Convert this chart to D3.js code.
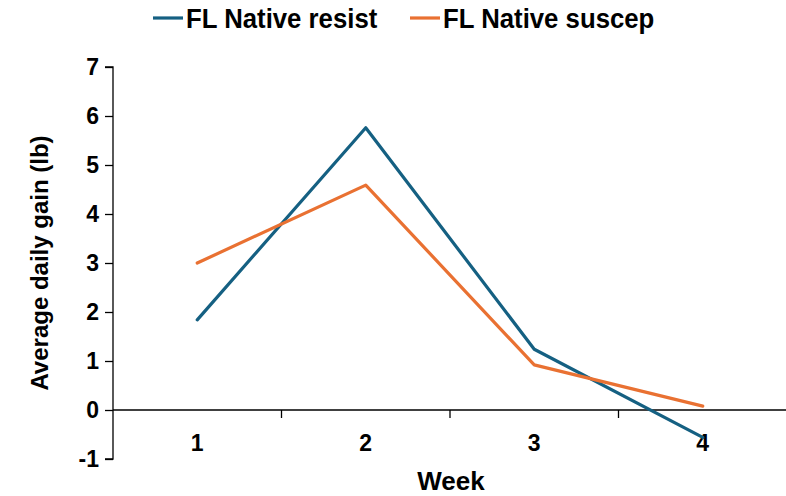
<!DOCTYPE html>
<html>
<head>
<meta charset="utf-8">
<script src="https://cdn.jsdelivr.net/npm/d3@7"></script>
<style>
  body { margin: 0; background: #fff; }
  text { font-family: "Liberation Sans", Arial, sans-serif; font-weight: bold; fill: #000; }
</style>
</head>
<body>
<div id="chart"></div>
<script>
const weeks = ["1", "2", "3", "4"];
const resist = [1.84, 5.76, 1.24, -0.56];
const suscep = [3.0, 4.59, 0.92, 0.08];
const yTicks = [-1, 0, 1, 2, 3, 4, 5, 6, 7];
const seriesNames = ["FL Native resist", "FL Native suscep"];
const colors = ["#156082", "#E97132"];

const width = 786, height = 496;
const margin = {top: 67, right: 0, bottom: 37, left: 113};

const svg = d3.select("#chart").append("svg")
	.attr("width", width)
	.attr("height", height);

const x = d3.scaleBand()
	.domain(weeks)
	.range([margin.left, width + 1]);

const y = d3.scaleLinear()
	.domain([-1, 7])
	.range([height - margin.bottom, margin.top]);

// y axis
const yAxis = svg.append("g")
	.attr("transform", `translate(${margin.left},0)`)
	.call(d3.axisLeft(y).tickValues(yTicks).tickSize(8).tickPadding(6).tickFormat(d => String(d)));
yAxis.selectAll("path, line").attr("stroke", "#000").attr("stroke-width", 1.3);
yAxis.select(".domain").attr("d", `M-8,${y(7)}H0V${y(-1)}H-8`);
yAxis.selectAll("text").style("font-size", "23px");

// x axis sits on zero, ticks between categories
const xAxis = svg.append("g")
	.attr("transform", `translate(0,${y(0)})`);
xAxis.append("line")
	.attr("x1", margin.left).attr("x2", width)
	.attr("stroke", "#000").attr("stroke-width", 1.3);
xAxis.selectAll(".tk")
	.data(weeks.slice(1))
	.enter().append("line")
	.attr("x1", d => x(d)).attr("x2", d => x(d))
	.attr("y1", 0).attr("y2", 8)
	.attr("stroke", "#000").attr("stroke-width", 1.3);

svg.selectAll(".xlab")
	.data(weeks)
	.enter().append("text")
	.attr("x", d => x(d) + x.bandwidth() / 2)
	.attr("y", 451)
	.attr("text-anchor", "middle")
	.style("font-size", "23px")
	.text(d => d);

svg.append("text")
	.attr("x", 451)
	.attr("y", 490)
	.attr("text-anchor", "middle")
	.style("font-size", "26px")
	.text("Week");

svg.append("text")
	.attr("transform", "translate(48,263) rotate(-90)")
	.attr("text-anchor", "middle")
	.style("font-size", "24px")
	.text("Average daily gain (lb)");

// lines
const line = d3.line()
	.x((d, i) => x(weeks[i]) + x.bandwidth() / 2)
	.y(d => y(d));

[resist, suscep].forEach((s, i) => {
	svg.append("path")
		.datum(s)
		.attr("fill", "none")
		.attr("stroke", colors[i])
		.attr("stroke-width", 3.2)
		.attr("stroke-linejoin", "round")
		.attr("stroke-linecap", "round")
		.attr("d", line);
});

// legend
const legendX = [153, 410];
const legend = svg.selectAll(".legend")
	.data(seriesNames)
	.enter().append("g")
	.attr("transform", (d, i) => `translate(${legendX[i]},18)`);
legend.append("line")
	.attr("x1", 0).attr("x2", 30)
	.attr("stroke", (d, i) => colors[i])
	.attr("stroke-width", 3.2);
legend.append("text")
	.attr("transform", "translate(33,0) scale(0.92,1)")
	.attr("dy", "0.35em")
	.style("font-size", "28px")
	.text(d => d);
</script>
</body>
</html>
